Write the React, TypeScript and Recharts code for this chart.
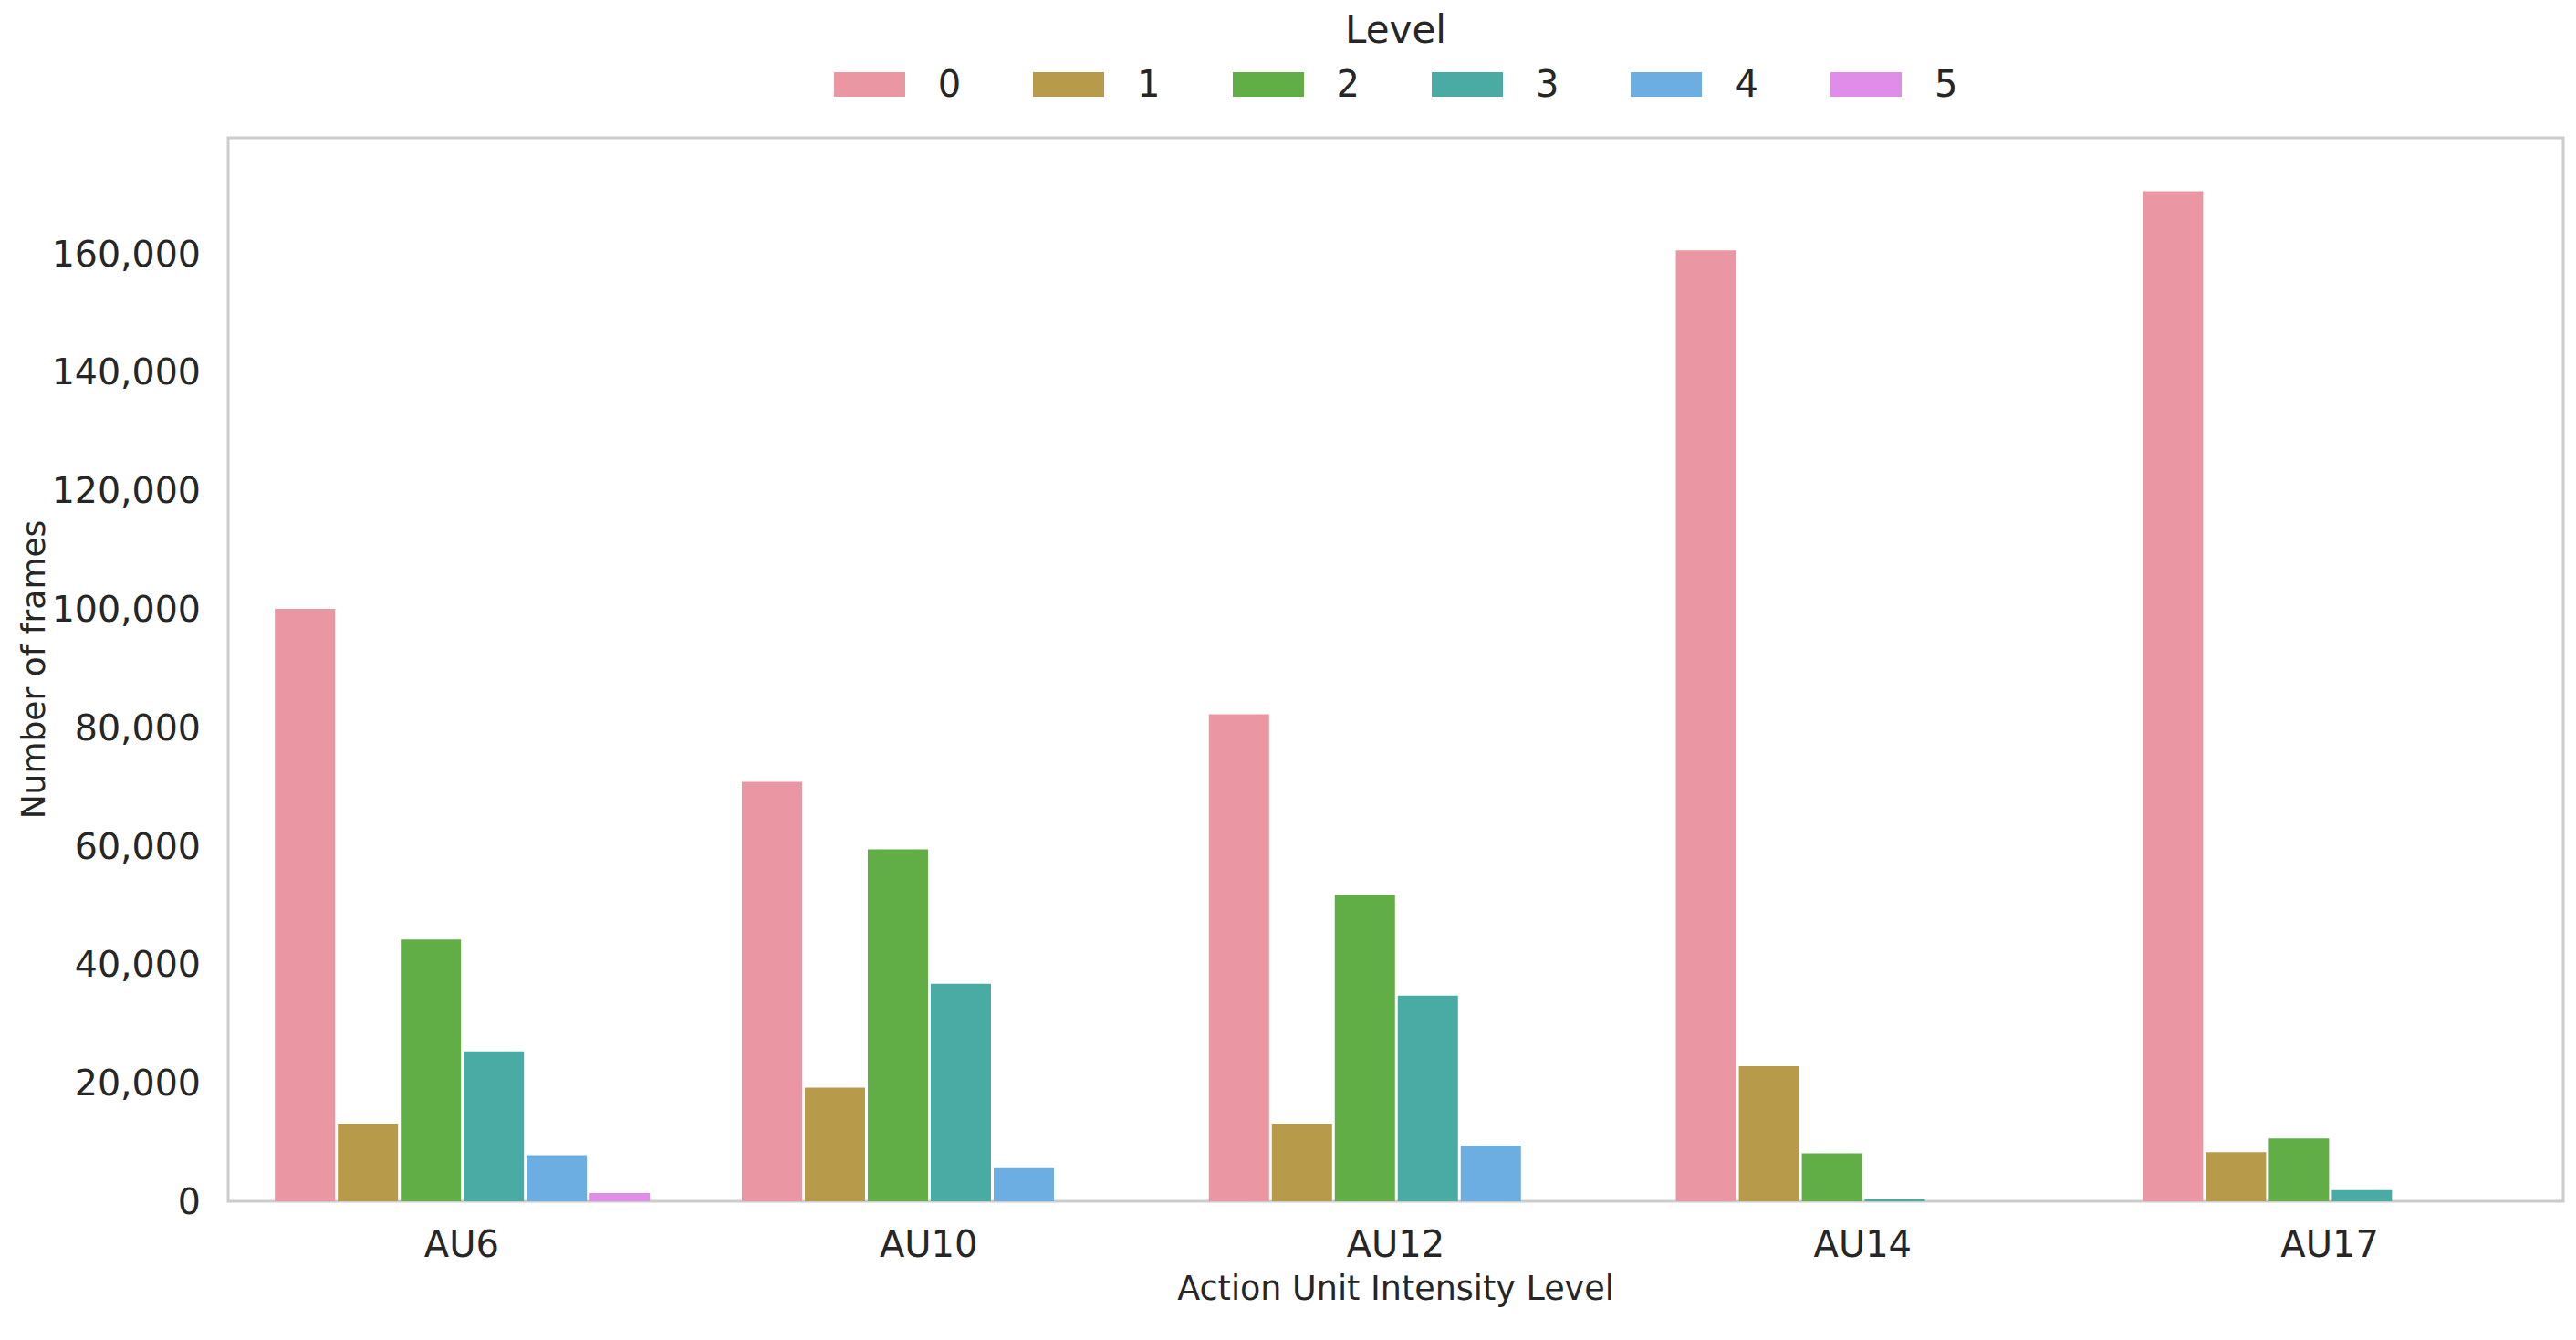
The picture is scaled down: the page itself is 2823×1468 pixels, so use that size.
import React from 'react';
import { BarChart, Bar, XAxis, YAxis, Legend, ReferenceArea } from 'recharts';

const CATEGORIES = ['AU6', 'AU10', 'AU12', 'AU14', 'AU17'];
const LEVELS = ['0', '1', '2', '3', '4', '5'];
const LEVEL0 = [100000, 70800, 82200, 160500, 170500];
const LEVEL1 = [13100, 19200, 13100, 22800, 8300];
const LEVEL2 = [44200, 59400, 51700, 8100, 10600];
const LEVEL3 = [25300, 36700, 34700, 350, 1900];
const LEVEL4 = [7800, 5600, 9400, 0, 0];
const LEVEL5 = [1400, 0, 0, 0, 0];
const SERIES = [LEVEL0, LEVEL1, LEVEL2, LEVEL3, LEVEL4, LEVEL5];
const Y_TICKS = [0, 20000, 40000, 60000, 80000, 100000, 120000, 140000, 160000];
const Y_MAX = 179500;

const COLORS = ['#ea96a3', '#b89b4a', '#61ae47', '#4aaba4', '#6daee2', '#df8de9'];
const FONT = '"DejaVu Sans", sans-serif';
const TEXT = '#262626';

const data = CATEGORIES.map((c, i) => {
  const row: Record<string, string | number> = { name: c };
  LEVELS.forEach((l, j) => {
    row['L' + l] = SERIES[j][i];
  });
  return row;
});

const fmt = (v: number) => v.toLocaleString('en-US');

const XTick = (props: any) => {
  const { x, y, payload } = props;
  return (
    <text x={x} y={y + 47} textAnchor="middle" dominantBaseline="central" fontSize={40} fill={TEXT} fontFamily={FONT}>
      {payload.value}
    </text>
  );
};

const YTick = (props: any) => {
  const { x, y, payload } = props;
  return (
    <text x={x - 30} y={y} textAnchor="end" dominantBaseline="central" fontSize={39.5} fill={TEXT} fontFamily={FONT}>
      {fmt(payload.value)}
    </text>
  );
};

const LegendContent = () => (
  <div style={{ position: 'relative', width: 2823, height: 151, fontFamily: FONT, color: TEXT }}>
    <div style={{ position: 'absolute', left: 250, width: 2559, top: 9, textAlign: 'center', fontSize: 42, lineHeight: '48px' }}>
      Level
    </div>
    <div style={{ position: 'absolute', left: 250, width: 2559, top: 73, height: 38, display: 'flex', justifyContent: 'center', alignItems: 'center' }}>
      {LEVELS.map((l, i) => (
        <div key={l} style={{ display: 'flex', alignItems: 'center', marginRight: i < LEVELS.length - 1 ? 79 : 0 }}>
          <span style={{ display: 'inline-block', width: 78, height: 27, background: COLORS[i] }} />
          <span style={{ marginLeft: 36, fontSize: 40, lineHeight: '38px' }}>{l}</span>
        </div>
      ))}
    </div>
  </div>
);

export default function App() {
  return (
    <div style={{ position: 'absolute', left: 0, top: 0, width: 2823, height: 1468, background: '#fff' }}>
      <BarChart
        width={2823}
        height={1468}
        data={data}
        margin={{ top: 0, right: 14, bottom: 0, left: 0 }}
        barCategoryGap="10%"
        barGap={3}
      >
        <Legend verticalAlign="top" align="left" wrapperStyle={{ top: 0, left: 0, width: 2823, height: 151 }} content={LegendContent} />
        <XAxis
          dataKey="name"
          height={152}
          axisLine={false}
          tickLine={false}
          tickSize={0}
          tickMargin={0}
          tick={XTick}
          interval={0}
          label={{
            content: (p: any) => {
              const vb = p.viewBox;
              return (
                <text x={vb.x + vb.width / 2} y={1411} textAnchor="middle" dominantBaseline="central" fontSize={36.5} fill={TEXT} fontFamily={FONT}>
                  Action Unit Intensity Level
                </text>
              );
            },
          }}
        />
        <YAxis
          width={250}
          domain={[0, Y_MAX]}
          ticks={Y_TICKS}
          axisLine={false}
          tickLine={false}
          tickSize={0}
          tickMargin={0}
          tick={YTick}
          allowDataOverflow
          label={{
            content: (p: any) => {
              const vb = p.viewBox;
              const cy = vb.y + vb.height / 2;
              return (
                <text x={36} y={cy} transform={`rotate(-90, 36, ${cy})`} textAnchor="middle" dominantBaseline="central" fontSize={36} fill={TEXT} fontFamily={FONT}>
                  Number of frames
                </text>
              );
            },
          }}
        />
        {LEVELS.map((l, i) => (
          <Bar key={l} dataKey={'L' + l} name={l} fill={COLORS[i]} isAnimationActive={false} />
        ))}
        <ReferenceArea y1={0} y2={Y_MAX} fill="none" stroke="#cccccc" strokeWidth={3} ifOverflow="visible" />
      </BarChart>
    </div>
  );
}
